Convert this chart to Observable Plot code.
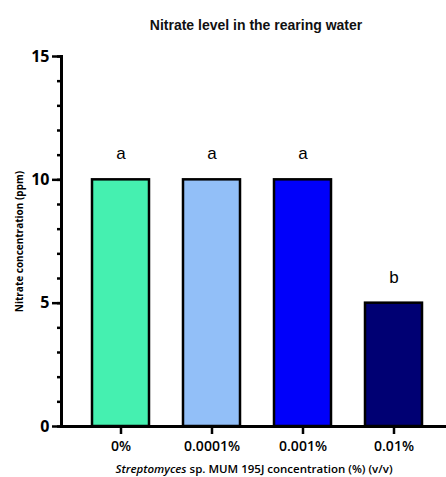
<!DOCTYPE html>
<html>
<head>
<meta charset="utf-8">
<script src="https://cdn.jsdelivr.net/npm/d3@7"></script>
<script src="https://cdn.jsdelivr.net/npm/@observablehq/plot@0.6"></script>
<style>
  body { margin: 0; background: #fff; }
  #title { width: 446px; height: 40px; box-sizing: border-box; padding-left: 66px; text-align: center;
    font: bold 14px "Liberation Sans", Arial, sans-serif; line-height: 50px; color: #111; }
</style>
</head>
<body>
<div id="title">Nitrate level in the rearing water</div>
<div id="chart"></div>
<script>
const categories = ["0%", "0.0001%", "0.001%", "0.01%"];
const values = [10, 10, 10, 5];
const letters = ["a", "a", "a", "b"];
const colors = ["#45F0B0", "#92BFF8", "#0000FA", "#000073"];
const majorTicks = [0, 5, 10, 15];
const minorTicks = d3.range(0, 16);
const xLabel = "Streptomyces sp. MUM 195J concentration (%) (v/v)";
const yLabel = "Nitrate concentration (ppm)";

const data = categories.map((c, i) => ({cat: c, value: values[i], letter: letters[i], color: colors[i]}));

const chart = Plot.plot({
  width: 446,
  height: 437,
  marginLeft: 61,
  marginRight: 0,
  marginTop: 16,
  marginBottom: 51,
  style: {fontFamily: "'Open Sans', sans-serif", color: "#000", background: "#fff"},
  x: {domain: categories, paddingInner: 0.374, paddingOuter: 0.302, align: 0.555},
  y: {domain: [0, 15]},
  marks: [
    Plot.barY(data, {x: "cat", y: "value", fill: "color", stroke: "#000", strokeWidth: 2.5}),
    Plot.text(data, {x: "cat", y: "value", text: "letter", dy: -26, fontSize: 17, fontFamily: "'Liberation Sans', Arial, sans-serif"}),
    Plot.axisY({ticks: minorTicks, tickSize: 4, tickFormat: () => "", strokeWidth: 2.5, label: null}),
    Plot.axisY({ticks: majorTicks, tickSize: 9, tickPadding: 3, strokeWidth: 2.5, fontSize: 16, fontWeight: "bold",
      label: yLabel, labelAnchor: "center", labelArrow: "none", labelOffset: 46}),
    Plot.axisX({tickSize: 8, tickPadding: 7, strokeWidth: 2.5, fontSize: 14, fontWeight: 600,
      label: xLabel, labelAnchor: "center", labelArrow: "none", labelOffset: 46}),
    Plot.frame({anchor: "left", strokeWidth: 3}),
    Plot.ruleY([0], {strokeWidth: 3})
  ]
});
document.getElementById("chart").appendChild(chart);

// style axis labels
const svg = d3.select(chart);
svg.selectAll('[aria-label="y-axis label"] text').style("font-size", "10px").style("font-weight", "bold")
  .style("font-family", "'Open Sans', sans-serif");
const xl = svg.select('[aria-label="x-axis label"] text');
xl.style("font-size", "11.5px").style("font-weight", 600);
xl.text(null);
xl.append("tspan").style("font-style", "italic").text("Streptomyces");
xl.append("tspan").text(" sp. MUM 195J concentration (%) (v/v)");
</script>
</body>
</html>
